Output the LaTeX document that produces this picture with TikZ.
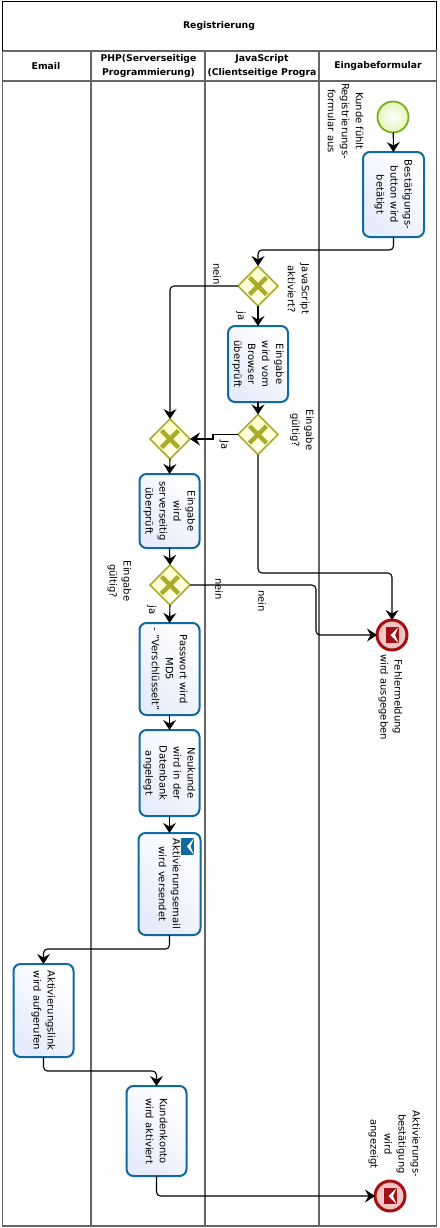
\documentclass[tikz,border=0pt]{standalone}
\usepackage{fontspec}
\setmainfont{DejaVu Sans}
\usetikzlibrary{arrows.meta,shapes.geometric}
\definecolor{taskline}{HTML}{10699F}
\definecolor{lowblue}{HTML}{E6ECFB}
\definecolor{gateline}{HTML}{ABAB2B}
\definecolor{gatefill}{HTML}{FFFFC8}
\definecolor{gatetop}{HTML}{FFFFEE}
\definecolor{startline}{HTML}{74B01E}
\definecolor{startfill}{HTML}{E4F5B8}
\definecolor{endline}{HTML}{A30F12}
\definecolor{endfill}{HTML}{EDBDBD}
\definecolor{laneline}{HTML}{666666}
\tikzset{
  every node/.style={font=\fontsize{10}{14}\selectfont, inner sep=0, outer sep=0},
  flow/.style={draw=black, line width=1.1pt, rounded corners=4pt, -{Stealth[length=10pt,width=13pt,inset=3.5pt]}},
  lane/.style={draw=laneline, line width=1.1pt},
  headtext/.style={font=\fontsize{9.3}{14}\selectfont\bfseries, align=center},
  vtext/.style={rotate=-90, align=center},
  taskbox/.style={rectangle, rounded corners=7pt, draw=taskline, line width=2pt,
    shading=axis, top color=white, bottom color=lowblue, shading angle=-45, rotate=-90, align=center},
  gate/.style={diamond, aspect=1, minimum width=40pt, minimum height=40pt, draw=gateline, line width=1.6pt,
    shading=axis, top color=gatetop, bottom color=gatefill, shading angle=180,
    path picture={
      \draw[gateline, line width=4.5pt] ([shift={(-8.5,-8.5)}]path picture bounding box.center) -- ([shift={(8.5,8.5)}]path picture bounding box.center);
      \draw[gateline, line width=4.5pt] ([shift={(-8.5,8.5)}]path picture bounding box.center) -- ([shift={(8.5,-8.5)}]path picture bounding box.center);
    }},
  startev/.style={circle, minimum size=31pt, draw=startline, line width=1.8pt, inner color=white, outer color=startfill},
  endev/.style={circle, minimum size=30pt, draw=endline, line width=3pt, inner color=endfill!60, outer color=endfill,
    path picture={
      \fill[endline] ([shift={(-6.5,-8)}]path picture bounding box.center) rectangle ([shift={(6.5,8)}]path picture bounding box.center);
      \fill[white] ([shift={(6.5,-8)}]path picture bounding box.center) -- ([shift={(-1.5,0)}]path picture bounding box.center) -- ([shift={(6.5,8)}]path picture bounding box.center) -- ([shift={(3,0)}]path picture bounding box.center) -- cycle;
    }},
}
\begin{document}
\begin{tikzpicture}[x=1pt,y=-1pt]
\useasboundingbox (0,0) rectangle (439,1228);
\fill[white] (0,0) rectangle (439,1228);
% pool frame
\draw[lane] (2.5,51) -- (2.5,1226) -- (436.5,1226) -- (436.5,51);
\draw[lane] (2.5,81) -- (436.5,81);
\draw[draw=laneline, line width=2.2pt] (91,51) -- (91,1226);
\draw[lane] (205,51) -- (205,1226);
\draw[draw=laneline, line width=1.6pt] (319,51) -- (319,1226);
\draw[black, line width=1.1pt] (2.5,51) -- (2.5,1.5) -- (436.5,1.5) -- (436.5,51);
\draw[lane] (2.5,51) -- (436.5,51);
% headers
\node[headtext] (title) at (219,26) {Registrierung};
\node[headtext] (hmail) at (46,66) {Email};
\node[headtext] (hphp) at (148.5,66) {PHP(Serverseitige\\Programmierung)};
\node[headtext] (hjs) at (262,66) {JavaScript\\(Clientseitige Progra};
\node[headtext] (hform) at (378,66) {Eingabeformular};
% events
\node[startev] (start) at (393,117) {};
\node[endev] (end1) at (392,635) {};
\node[endev] (end2) at (390,1196) {};
% tasks (minimum width = vertical extent after rotation)
\node[taskbox, minimum width=85pt, minimum height=61pt] (t1) at (393.5,194.5) {Bestätigungs-\\button wird\\betätigt};
\node[taskbox, minimum width=76pt, minimum height=60pt] (t2) at (258,364) {Eingabe\\wird vom\\Browser\\überprüft};
\node[taskbox, minimum width=74pt, minimum height=60pt] (t3) at (169.5,511) {Eingabe\\wird\\serverseitig\\überprüft};
\node[taskbox, minimum width=92pt, minimum height=60pt] (t4) at (169.5,669) {Passwort wird\\MD5\\- "Verschlüsselt"};
\node[taskbox, minimum width=86pt, minimum height=60pt] (t5) at (169.5,773) {Neukunde\\wird in der\\Datenbank\\angelegt};
\node[taskbox, minimum width=102pt, minimum height=62pt] (t6) at (169.5,884) {Aktivierungsemail\\wird versendet};
\node[taskbox, minimum width=93pt, minimum height=60pt] (t7) at (43.5,1010.5) {Aktivierungslink\\wird aufgerufen};
\node[taskbox, minimum width=90pt, minimum height=60pt] (t8) at (156.5,1131) {Kundenkonto\\wird aktiviert};
% mail icon on t6
\fill[taskline] (181,838) rectangle (194,855);
\fill[white] (194,838) -- (187,846.5) -- (194,855) -- (190.5,846.5) -- cycle;
% gateways
\node[gate] (g1) at (258,286) {};
\node[gate] (g2) at (258,434.5) {};
\node[gate] (g3) at (170,439) {};
\node[gate] (g4) at (170,585) {};
% connectors
\draw[flow] (start) -- (t1.west);
\draw[flow] (t1.east) -- ++(0,13) -| (g1.north);
\draw[flow] (g1.south) -- (t2.west);
\draw[flow] (t2.east) -- (g2.north);
\draw[flow] (g1.west) -| (g3.north);
\draw[flow, rounded corners=0pt] (g2.west) -- ++(-25,0) -- ++(0,4.5) -- (g3.east);
\draw[flow] (g2.south) |- ++(134,118.5) -- (end1.north);
\draw[flow] (g3.south) -- (t3.west);
\draw[flow] (t3.east) -- (g4.north);
\draw[flow] (g4.south) -- (t4.west);
\draw[flow] (g4.east) -- ++(126,0) |- (end1.west);
\draw[flow] (t4.east) -- (t5.west);
\draw[flow] (t5.east) -- (t6.west);
\draw[flow] (t6.east) -- ++(0,14) -| (t7.west);
\draw[flow] (t7.east) -- ++(0,14) -| (t8.west);
\draw[flow] (t8.east) |- (end2.west);
% labels
\node[vtext] (lstart) at (345.5,121) {Kunde fühlt\\Registrierungs-\\formular aus};
\node[vtext] (ln1) at (217,274) {nein};
\node[vtext] (lq1) at (298.5,289) {JavaScript\\aktiviert?};
\node[vtext] (lja1) at (241,316) {ja};
\node[vtext] (lq2) at (302,430) {Eingabe\\gültig?};
\node[vtext] (lja2) at (224,445) {Ja};
\node[vtext] (ln2) at (219,589) {nein};
\node[vtext] (ln3) at (262,601) {nein};
\node[vtext] (lq3) at (119.5,581) {Eingabe\\gültig?};
\node[vtext] (lja3) at (152,610) {ja};
\node[vtext] (lend1) at (390.5,697) {Fehlermeldung\\wird ausgegeben};
\node[vtext] (lend2) at (394.5,1144) {Aktivierungs-\\bestätigung\\wird\\angezeigt};
\end{tikzpicture}
\end{document}
